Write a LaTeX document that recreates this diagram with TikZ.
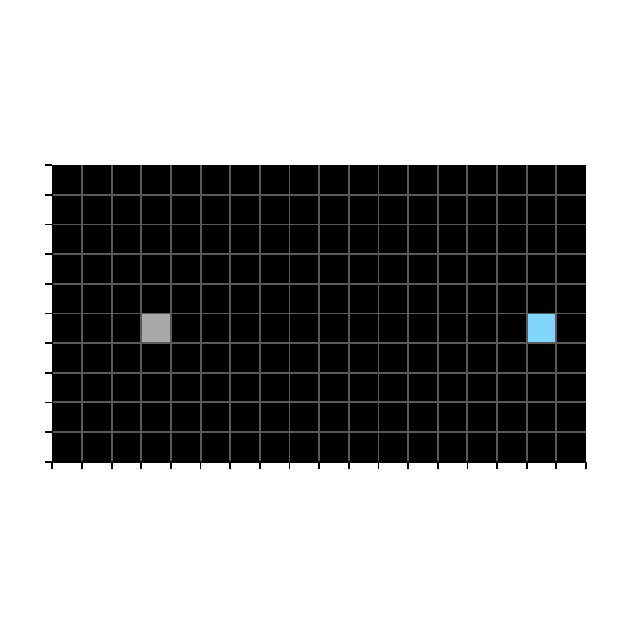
\documentclass[tikz,border=0pt]{standalone}
\definecolor{gridgray}{HTML}{5A5A5A}
\definecolor{cellgray}{HTML}{A9A9A9}
\definecolor{cellblue}{HTML}{80D6FC}
\tikzset{
  gridline/.style={draw=gridgray, line width=1.9pt},
  tickmark/.style={draw=black, line width=1.8pt},
  spine/.style={draw=black, line width=1.6pt}
}
\begin{document}
\begin{tikzpicture}[x=1pt,y=-1pt]
\useasboundingbox (0,0) rectangle (629,629);
\def\xo{52.3}\def\yo{165.2}\def\s{29.65}
% background
\fill[black] (\xo,\yo) rectangle ({\xo+18*\s},{\yo+10*\s});
% coloured cells
\fill[cellgray] ({\xo+3*\s},{\yo+5*\s}) rectangle ({\xo+4*\s},{\yo+6*\s});
\fill[cellblue] ({\xo+16*\s},{\yo+5*\s}) rectangle ({\xo+17*\s},{\yo+6*\s});
% grid
\foreach \i in {1,...,17} \draw[gridline] ({\xo+\i*\s},\yo) -- ({\xo+\i*\s},{\yo+10*\s});
\foreach \j in {1,...,9} \draw[gridline] (\xo,{\yo+\j*\s}) -- ({\xo+18*\s},{\yo+\j*\s});
% spines
\draw[spine] (\xo,\yo) -- (\xo,{\yo+10*\s}) -- ({\xo+18*\s},{\yo+10*\s});
% ticks
\foreach \j in {0,...,10} \draw[tickmark] (\xo,{\yo+\j*\s}) -- ({\xo-7},{\yo+\j*\s});
\foreach \i in {0,...,18} \draw[tickmark] ({\xo+\i*\s},{\yo+10*\s}) -- ({\xo+\i*\s},{\yo+10*\s+7.5});
\end{tikzpicture}
\end{document}
